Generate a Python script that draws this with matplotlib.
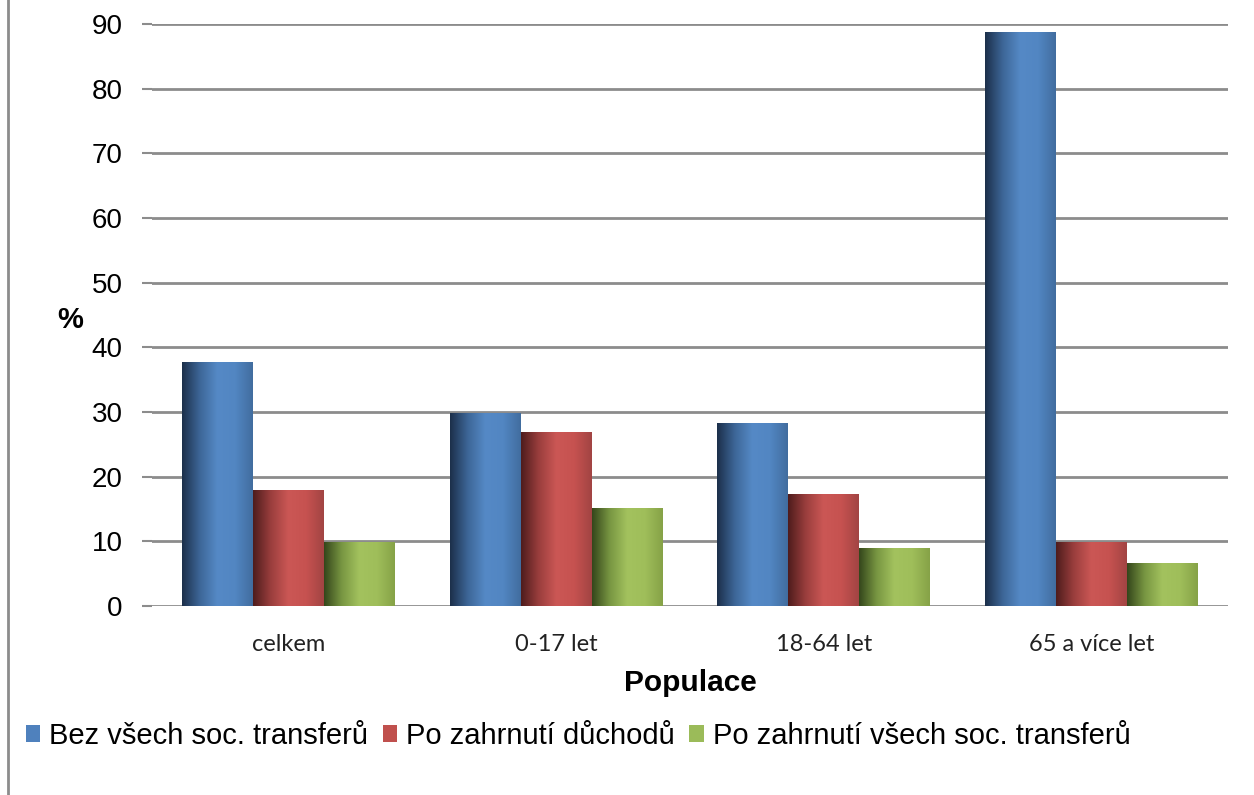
import numpy as np
import matplotlib
matplotlib.use("Agg")
import matplotlib.pyplot as plt
from matplotlib.colors import LinearSegmentedColormap
from matplotlib.patches import Patch
from matplotlib.lines import Line2D

plt.rcParams["font.family"] = ["Liberation Sans", "DejaVu Sans"]

categories = ["celkem", "0-17 let", "18-64 let", "65 a více let"]
series_names = [
    "Bez všech soc. transferů",
    "Po zahrnutí důchodů",
    "Po zahrnutí všech soc. transferů",
]
bez_transferu = [37.7, 29.8, 28.3, 88.8]
po_duchodech = [17.9, 26.9, 17.3, 9.9]
po_vsech = [9.9, 15.1, 9.0, 6.6]
yticks = [0, 10, 20, 30, 40, 50, 60, 70, 80, 90]

# dark edge -> light middle -> slightly darker right edge (Excel style gradient)
gradients = [
    ["#1c2f4a", "#3d6697", "#5589c6", "#5286c2", "#416d9f"],
    ["#4e1c1c", "#9a3e3d", "#cb5755", "#c65250", "#a24443"],
    ["#34461b", "#789642", "#a3c25e", "#9fbe5a", "#86a247"],
]
legend_colors = ["#4f81bd", "#c0504d", "#9bbb59"]

fig = plt.figure(figsize=(12.54, 7.95), dpi=100)
ax = fig.add_axes([152 / 1254, 1 - 606 / 795, (1228 - 152) / 1254, (606 - 24) / 795])

x = np.arange(len(categories))
width = 0.265
data = [bez_transferu, po_duchodech, po_vsech]

grad = np.linspace(0, 1, 256).reshape(1, -1)
for i, vals in enumerate(data):
    cmap = LinearSegmentedColormap.from_list("g%d" % i, gradients[i])
    bars = ax.bar(x + (i - 1) * width, vals, width, color="none", edgecolor="none", zorder=3)
    for b in bars:
        x0, y0 = b.get_x(), b.get_y()
        w, h = b.get_width(), b.get_height()
        im = ax.imshow(grad, cmap=cmap, aspect="auto", extent=[x0, x0 + w, y0, y0 + h],
                       zorder=3, interpolation="bilinear")
        im.set_clip_path(b)

ax.set_xlim(-0.51, 3.51)
ax.set_ylim(0, 90)
ax.set_yticks(yticks)
ax.set_xticks(x)
ax.set_xticklabels(categories, fontsize=17, family=["Lato", "DejaVu Sans"], color="#222222")
ax.tick_params(axis="x", length=0, pad=20)
ax.tick_params(axis="y", length=7, width=1.5, color="#8c8c8c", labelsize=20, pad=14)

ax.grid(axis="y", color="#8c8c8c", linewidth=2, zorder=0)
ax.set_axisbelow(True)
for s in ax.spines.values():
    s.set_visible(False)

fig.text(70 / 1254, 1 - 320 / 795, "%", fontsize=21, fontweight="bold", ha="center", va="center")
fig.text(690 / 1254, 1 - 683 / 795, "Populace", fontsize=21.5, fontweight="bold", ha="center", va="center")

handles = [Patch(facecolor=c, edgecolor="none") for c in legend_colors]
fig.legend(handles, series_names, loc="center left", bbox_to_anchor=(14 / 1254, 1 - 736 / 795),
           ncol=3, frameon=False, fontsize=21, handlelength=0.5, handleheight=0.5,
           handletextpad=0.3, columnspacing=0.5, borderaxespad=0)

fig.add_artist(Line2D([8 / 1254, 8 / 1254], [0, 1], color="#8c8c8c", linewidth=2,
                      transform=fig.transFigure))

fig.savefig("out.png", dpi=100)
